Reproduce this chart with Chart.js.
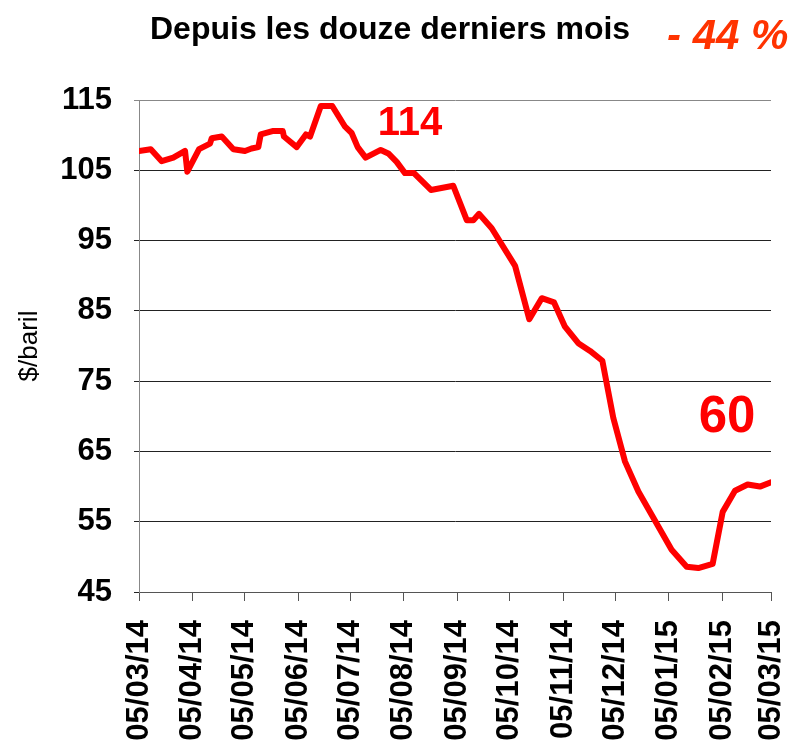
<!DOCTYPE html>
<html>
<head>
<meta charset="utf-8">
<script src="https://cdn.jsdelivr.net/npm/chart.js@4.4.1/dist/chart.umd.min.js"></script>
<style>
  html, body { margin: 0; padding: 0; background: #fff; }
  #wrap { position: relative; width: 796px; height: 743px; }
  #title { position: absolute; left: 150px; top: 12px; font: bold 32px "Liberation Sans", Arial, sans-serif; line-height: 32px; color: #000; white-space: nowrap; }
  #change { position: absolute; left: 667px; top: 14px; font: italic bold 42px "Liberation Sans", Arial, sans-serif; line-height: 42px; color: #ff3300; white-space: nowrap; }
</style>
</head>
<body>
<div id="wrap">
  <canvas id="oilChart" width="796" height="743"></canvas>
  <div id="title">Depuis les douze derniers mois</div>
  <div id="change">- 44 %</div>
</div>
<script>
// days since 05/03/14 and price in $/baril
const priceDays = [0, 6.8, 13.1, 19.8, 26.6, 27.9, 34.7, 41, 42, 47.8, 54.5, 61.2, 65, 68.9, 70.3,
    77.6, 83, 83.7, 91.1, 96.4, 98.8, 105, 111.6, 119, 122.8, 126.3, 130.9, 139.6, 144, 148.8,
    153.6, 158.8, 168.6, 181.5, 189.3, 193.1, 196.4, 203.7, 217.2, 225.4, 232.6, 239.7, 246,
    253.7, 260.5, 267.6, 273.9, 280.7, 288.4, 307.6, 316.3, 323, 331.3, 337.1, 344.2, 351.5,
    358.6, 365];
const priceValues = [107.75, 108.0, 106.3, 106.8, 107.75, 104.8, 108.0, 108.8, 109.55, 109.8,
    108.0, 107.75, 108.1, 108.3, 110.1, 110.6, 110.6, 109.8, 108.3, 110.1, 109.8, 114.15, 114.15,
    111.2, 110.3, 108.3, 106.8, 107.9, 107.4, 106.2, 104.6, 104.6, 102.2, 102.8, 97.9, 97.9, 98.8,
    96.75, 91.4, 83.8, 86.8, 86.2, 82.75, 80.4, 79.3, 77.9, 69.8, 63.55, 59.3, 51.0, 48.6, 48.4,
    49.0, 56.4, 59.4, 60.3, 60.0, 60.6];

const tickDays = [0, 31, 61, 92, 122, 153, 184, 214, 245, 275, 306, 337, 365];
const tickLabels = ['05/03/14', '05/04/14', '05/05/14', '05/06/14', '05/07/14', '05/08/14',
    '05/09/14', '05/10/14', '05/11/14', '05/12/14', '05/01/15', '05/02/15', '05/03/15'];

const noteTexts = ['114', '60'];

const FONT = '"Liberation Sans", Arial, sans-serif';

// big red labels next to the curve
const notesPlugin = {
    id: 'notes',
    afterDatasetsDraw(chart) {
        const {ctx, scales: {x, y}} = chart;
        const spots = [
            {day: 156.5, value: 111.6, size: 40},
            {day: 339.6, value: 69.8, size: 51}
        ];
        ctx.save();
        ctx.fillStyle = '#ff0000';
        ctx.textAlign = 'center';
        ctx.textBaseline = 'middle';
        noteTexts.forEach((t, i) => {
            const s = spots[i];
            ctx.font = `bold ${s.size}px ${FONT}`;
            ctx.fillText(t, x.getPixelForValue(s.day), y.getPixelForValue(s.value));
        });
        ctx.restore();
    }
};

const ctx = document.getElementById('oilChart').getContext('2d');
new Chart(ctx, {
    type: 'line',
    data: {
        datasets: [{
            data: priceDays.map((d, i) => ({x: d, y: priceValues[i]})),
            borderColor: '#ff0000',
            borderWidth: 6,
            borderJoinStyle: 'round',
            borderCapStyle: 'round',
            pointRadius: 0,
            tension: 0,
            fill: false
        }]
    },
    options: {
        responsive: false,
        animation: false,
        layout: {padding: {left: 10, right: 25, top: 100, bottom: 0}},
        plugins: {legend: {display: false}, tooltip: {enabled: false}},
        scales: {
            x: {
                type: 'linear',
                min: 0,
                max: 365,
                afterBuildTicks: scale => { scale.ticks = tickDays.map(v => ({value: v})); },
                afterFit: scale => {
                    scale.height = 151;
                    scale.paddingLeft = 0;
                    scale.paddingRight = 0;
                },
                ticks: {
                    autoSkip: false,
                    minRotation: 90,
                    maxRotation: 90,
                    padding: 19,
                    color: '#000',
                    font: {family: FONT, size: 31, weight: 'bold'},
                    callback: v => tickLabels[tickDays.indexOf(v)]
                },
                grid: {drawOnChartArea: false, drawTicks: true, tickLength: 9, color: '#555'},
                border: {display: true, color: '#555', width: 1}
            },
            y: {
                min: 45,
                max: 115,
                afterFit: scale => { scale.width = 129; },
                ticks: {
                    stepSize: 10,
                    padding: 22,
                    color: '#000',
                    font: {family: FONT, size: 31, weight: 'bold'}
                },
                grid: {
                    tickLength: 5,
                    color: c => c.tick && c.tick.value === 115 ? '#888' : '#222'
                },
                border: {display: true, color: '#888', width: 1},
                title: {
                    display: true,
                    text: '$/baril',
                    color: '#000',
                    padding: {top: 4, bottom: 0},
                    font: {family: FONT, size: 26, weight: 'normal'}
                }
            }
        }
    },
    plugins: [notesPlugin]
});
</script>
</body>
</html>
